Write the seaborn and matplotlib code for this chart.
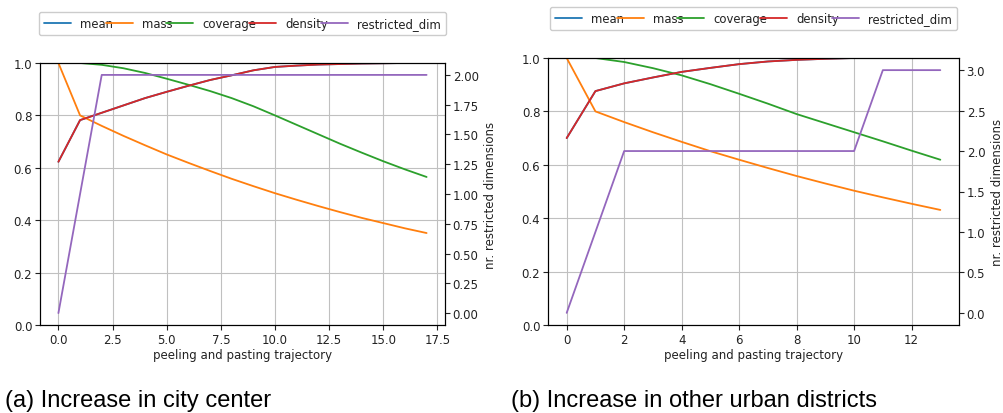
import matplotlib
matplotlib.use("Agg")
import numpy as np
import pandas as pd
import matplotlib.pyplot as plt
import seaborn as sns

# ---------------- data ----------------
metrics = ["mean", "mass", "coverage", "density", "restricted_dim"]

steps_a = list(range(18))
mass_a = [1.0, 0.80, 0.76, 0.722, 0.686, 0.651, 0.619, 0.588, 0.558, 0.530,
          0.503, 0.478, 0.454, 0.431, 0.409, 0.389, 0.369, 0.351]
coverage_a = [1.0, 1.0, 0.993, 0.98, 0.962, 0.94, 0.917, 0.893, 0.866, 0.835,
              0.80, 0.764, 0.728, 0.692, 0.658, 0.625, 0.594, 0.565]
density_a = [0.623, 0.782, 0.81, 0.838, 0.866, 0.89, 0.913, 0.935, 0.953, 0.972,
             0.985, 0.99, 0.994, 0.996, 0.998, 0.999, 1.0, 1.0]
mean_a = list(density_a)
rdim_a = [0, 1, 2, 2, 2, 2, 2, 2, 2, 2, 2, 2, 2, 2, 2, 2, 2, 2]

steps_b = list(range(14))
mass_b = [1.0, 0.80, 0.76, 0.722, 0.686, 0.651, 0.619, 0.588, 0.558, 0.530,
          0.503, 0.478, 0.454, 0.431]
coverage_b = [1.0, 1.0, 0.985, 0.962, 0.935, 0.902, 0.866, 0.829, 0.79, 0.756,
              0.722, 0.688, 0.653, 0.619]
density_b = [0.70, 0.876, 0.905, 0.927, 0.948, 0.963, 0.977, 0.987, 0.993, 0.997,
             1.0, 1.0, 1.0, 1.0]
mean_b = list(density_b)
rdim_b = [0, 1, 2, 2, 2, 2, 2, 2, 2, 2, 2, 3, 3, 3]

xlabel = "peeling and pasting trajectory"
ylabel_right = "nr. restricted dimensions"
captions = ["(a) Increase in city center", "(b) Increase in other urban districts"]

colors = {"mean": "#1f77b4", "mass": "#ff7f0e", "coverage": "#2ca02c",
          "density": "#d62728", "restricted_dim": "#9467bd"}

# ---------------- style ----------------
sns.set_style("ticks", {"axes.grid": True, "grid.color": "#c0c0c0",
                        "axes.edgecolor": "black", "xtick.color": "#222222",
                        "ytick.color": "#222222", "text.color": "#222222",
                        "axes.labelcolor": "#222222"})
plt.rcParams['font.family'] = ['DejaVu Sans']
FS = 8.5
plt.rcParams['font.size'] = FS
plt.rcParams['grid.linewidth'] = 0.8
plt.rcParams['xtick.direction'] = 'out'
plt.rcParams['ytick.direction'] = 'out'

W, H = 1004, 414
fig = plt.figure(figsize=(W / 100, H / 100), dpi=100)

def panel(rect, steps, mean, mass, cov, dens, rdim, xticks):
    ax = fig.add_axes(rect)
    df = pd.DataFrame({"step": steps, "mean": mean, "mass": mass,
                       "coverage": cov, "density": dens, "restricted_dim": rdim})
    for m in ["mean", "mass", "coverage", "density"]:
        sns.lineplot(data=df, x="step", y=m, ax=ax, color=colors[m],
                     linewidth=1.3, label=m, legend=False)
    ax.set_ylim(0, 1)
    ax.set_xticks(xticks)
    ax.set_xlabel(xlabel, fontsize=FS, labelpad=2)
    ax.set_ylabel("")
    ax.tick_params(labelsize=FS, length=3.5, width=0.8, pad=2)
    ax2 = ax.twinx()
    sns.lineplot(data=df, x="step", y="restricted_dim", ax=ax2,
                 color=colors["restricted_dim"], linewidth=1.3,
                 label="restricted_dim", legend=False)
    ax2.grid(False)
    ax2.set_xlabel("")
    ax2.set_ylabel(ylabel_right, fontsize=FS, labelpad=4)
    ax2.tick_params(labelsize=FS, length=3.5, width=0.8, pad=2)
    for s in ax.spines.values():
        s.set_linewidth(0.8)
    for s in ax2.spines.values():
        s.set_linewidth(0.8)
    handles = ax.get_lines()[:4] + ax2.get_lines()[:1]
    hp = rect[3] * H
    ax.legend(handles, metrics, loc="lower center",
              bbox_to_anchor=(0.5, 1 + 28 / hp), ncol=5, borderaxespad=0,
              fontsize=8.4, columnspacing=-0.6, handlelength=2.3,
              handletextpad=0.8, frameon=True, fancybox=True,
              edgecolor="#cccccc", framealpha=1, borderpad=0.45)
    return ax, ax2

panel([40 / W, 1 - 326 / H, 405 / W, 262 / H], steps_a, mean_a, mass_a,
      coverage_a, density_a, rdim_a, np.arange(0, 17.6, 2.5))
panel([548 / W, 1 - 326 / H, 411 / W, 267 / H], steps_b, mean_b, mass_b,
      coverage_b, density_b, rdim_b, np.arange(0, 13, 2))

fig.text(5 / W, 1 - 401 / H, captions[0], fontsize=17,
         family="Liberation Sans", color="black", va="center", ha="left")
fig.text(511 / W, 1 - 401 / H, captions[1], fontsize=17,
         family="Liberation Sans", color="black", va="center", ha="left")

fig.savefig("out.png", dpi=100, facecolor="white")
